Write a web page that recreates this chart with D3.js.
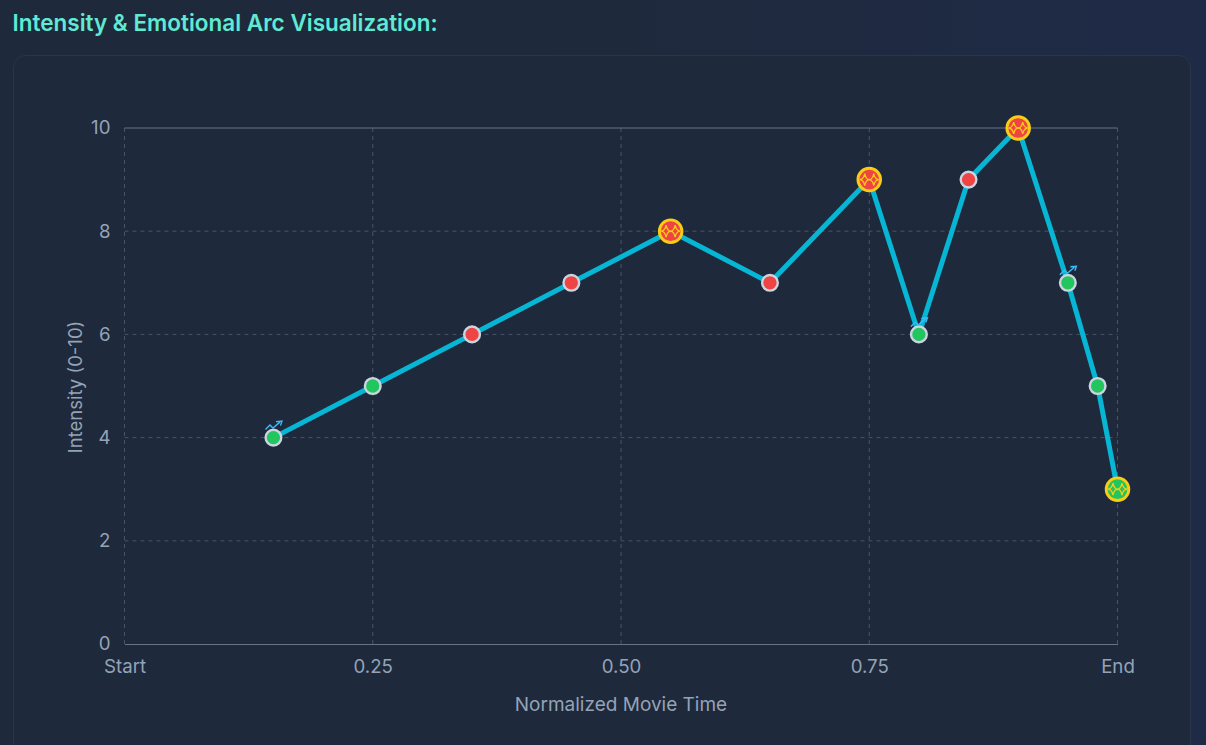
<!DOCTYPE html>
<html><head><meta charset="utf-8">
<script src="https://cdn.jsdelivr.net/npm/d3@7/dist/d3.min.js"></script>
<style>
html,body{margin:0;padding:0;width:1206px;height:745px;overflow:hidden;background:linear-gradient(90deg,#1e293b 0%,#1e293b 45%,#1f2a47 100%);font-family:Inter,sans-serif}
svg{display:block}
</style></head><body>
<svg id="c" width="1206" height="745"></svg>
<script>
const times=[0.15,0.25,0.35,0.45,0.55,0.65,0.75,0.80,0.85,0.90,0.95,0.98,1.0];
const intensity=[4,5,6,7,8,7,9,6,9,10,7,5,3];
const tone=["g","g","r","r","r","r","r","g","r","r","g","g","g"];
const peaks=[0.55,0.75,0.90,1.0];
const turns=[0.15,0.80,0.95];
const xTicks=[0,0.25,0.5,0.75,1];
const xLabels=["Start","0.25","0.50","0.75","End"];
const yTicks=[0,2,4,6,8,10];

const svg=d3.select("#c");
const x=d3.scaleLinear().domain([0,1]).range([124.5,1117.5]);
const y=d3.scaleLinear().domain([0,10]).range([644,128]);

svg.append("text").attr("x",12.5).attr("y",31).attr("fill","#5eead4")
  .attr("font-size",22.5).attr("font-weight",600).text("Intensity & Emotional Arc Visualization:");
svg.append("rect").attr("x",13.5).attr("y",55.5).attr("width",1177).attr("height",720).attr("rx",12)
  .attr("fill","#1e293b").attr("stroke","#2a3648");

const g=svg.append("g");
g.selectAll(".gy").data(yTicks.filter(d=>d>0&&d<10)).join("line")
  .attr("x1",x(0)).attr("x2",x(1)).attr("y1",d=>y(d)).attr("y2",d=>y(d))
  .attr("stroke","#475569").attr("stroke-dasharray","4 4");
g.selectAll(".gx").data(xTicks).join("line")
  .attr("x1",d=>x(d)).attr("x2",d=>x(d)).attr("y1",y(10)).attr("y2",y(0))
  .attr("stroke","#475569").attr("stroke-dasharray","4 4");
g.append("line").attr("x1",x(0)).attr("x2",x(1)).attr("y1",y(10)).attr("y2",y(10)).attr("stroke","#64748b");

const xAxis=d3.axisBottom(x).tickValues(xTicks).tickFormat((d,i)=>xLabels[i]).tickSize(0).tickPadding(16);
const yAxis=d3.axisLeft(y).tickValues(yTicks).tickSize(0).tickPadding(14);
const ax=svg.append("g").attr("transform",`translate(0,${y(0)})`).call(xAxis);
ax.select(".domain").attr("stroke","#64748b");
const ay=svg.append("g").attr("transform",`translate(${x(0)},0)`).call(yAxis);
ay.select(".domain").remove();
svg.selectAll(".tick text").attr("fill","#94a3b8").attr("font-size",18.7).attr("font-family","Inter,sans-serif");

svg.append("text").attr("x",(x(0)+x(1))/2).attr("y",711).attr("text-anchor","middle")
  .attr("fill","#94a3b8").attr("font-size",19).text("Normalized Movie Time");
svg.append("text").attr("transform","translate(82,387) rotate(-90)").attr("text-anchor","middle")
  .attr("fill","#94a3b8").attr("font-size",18.5).text("Intensity (0-10)");

const pts=times.map((t,i)=>({t,v:intensity[i],tone:tone[i]}));
svg.append("path").datum(pts).attr("fill","none").attr("stroke","#06b6d4").attr("stroke-width",5)
  .attr("stroke-linejoin","round")
  .attr("d",d3.line().x(d=>x(d.t)).y(d=>y(d.v)));

const col={g:"#22c55e",r:"#ef4444"};
const regular=pts.filter(d=>!peaks.includes(d.t));
svg.selectAll(".pt").data(regular).join("circle")
  .attr("cx",d=>x(d.t)).attr("cy",d=>y(d.v)).attr("r",7.85)
  .attr("fill",d=>col[d.tone]).attr("stroke","#cbd5e1").attr("stroke-width",2.4);

const peak=pts.filter(d=>peaks.includes(d.t));
svg.selectAll(".pk").data(peak).join("circle")
  .attr("cx",d=>x(d.t)).attr("cy",d=>y(d.v)).attr("r",11.3)
  .attr("fill",d=>col[d.tone]).attr("stroke","#facc15").attr("stroke-width",2.9);
svg.selectAll(".pki").data(peak).join("path")
  .attr("transform",d=>`translate(${x(d.t)},${y(d.v)})`)
  .attr("d","M-9.5 0Q-5.5-0.5-4.5-6Q-3.5-0.5 0 0.3Q3.5-0.5 4.5-6Q5.5-0.5 9.5 0Q5.5 0.5 4.5 6Q3.5 0.5 0-0.3Q-3.5 0.5-4.5 6Q-5.5 0.5-9.5 0Z")
  .attr("fill","none").attr("stroke","#facc15").attr("stroke-width",1.3);

const turn=pts.filter(d=>turns.includes(d.t));
svg.selectAll(".tr").data(turn).join("path")
  .attr("transform",d=>`translate(${x(d.t)},${y(d.v)})`)
  .attr("d","M-8-8L-3.5-12.5L-0.5-9.5L6.5-15.5M2.5-16L8.5-16.5L7-12")
  .attr("fill","none").attr("stroke","#38bdf8").attr("stroke-width",1.4);
</script>
</body></html>
